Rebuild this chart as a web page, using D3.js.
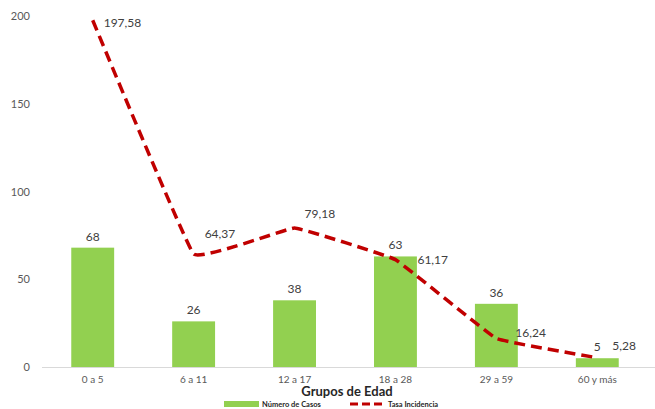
<!DOCTYPE html>
<html><head><meta charset="utf-8">
<script src="https://cdn.jsdelivr.net/npm/d3@7"></script>
<style>body{margin:0;background:#fff}svg{display:block;font-family:Lato,"Open Sans",sans-serif}</style>
</head><body><svg width="655" height="409"></svg>
<script>
const categories = ["0 a 5","6 a 11","12 a 17","18 a 28","29 a 59","60 y más"];
const casos = [68,26,38,63,36,5];
const tasa = [197.58,64.37,79.18,61.17,16.24,5.28];
const yTicks = [0,50,100,150,200];
// label offsets (styling) for line labels [dx, dy]
const tasaLabelOffsets = [[11,7],[11,-16],[10,-10],[22,4],[19,-1],[15,-8]];

const svg = d3.select("svg");
const x = d3.scaleBand().domain(categories).range([42,648]).paddingInner(0.575).paddingOuter(0.29);
const y = d3.scaleLinear().domain([0,200]).range([367,16]);
const fmt = v => String(v).replace(".", ",");

// y tick labels
svg.append("g").selectAll("text").data(yTicks).join("text")
  .attr("x",30).attr("y",d=>y(d)+4).attr("text-anchor","end")
  .attr("font-size",11).attr("fill","#595959").text(d=>d);

// bars
svg.append("g").selectAll("rect").data(casos).join("rect")
  .attr("x",(d,i)=>x(categories[i])).attr("width",x.bandwidth())
  .attr("y",d=>y(d)).attr("height",d=>y(0)-y(d)).attr("fill","#92D050");

// axis line
svg.append("line").attr("x1",42).attr("x2",655).attr("y1",y(0)+0.5).attr("y2",y(0)+0.5)
  .attr("stroke","#d9d9d9").attr("stroke-width",1);

// bar labels
svg.append("g").selectAll("text").data(casos).join("text")
  .attr("x",(d,i)=>x(categories[i])+x.bandwidth()/2).attr("y",d=>y(d)-7)
  .attr("text-anchor","middle").attr("font-size",12).attr("fill","#404040").text(d=>d);

// line
const cx = i => x(categories[i])+x.bandwidth()/2;
const line = d3.line().x((d,i)=>cx(i)).y(d=>y(d)).curve(d3.curveCardinal.tension(0.8));
svg.append("path").datum(tasa).attr("d",line).attr("fill","none")
  .attr("stroke","#C00000").attr("stroke-width",3.5).attr("stroke-dasharray","11,6");

// line labels
svg.append("g").selectAll("text").data(tasa).join("text")
  .attr("x",(d,i)=>cx(i)+tasaLabelOffsets[i][0]).attr("y",(d,i)=>y(d)+tasaLabelOffsets[i][1])
  .attr("font-size",12).attr("fill","#404040").text(d=>fmt(d));

// x labels
svg.append("g").selectAll("text").data(categories).join("text")
  .attr("x",d=>x(d)+x.bandwidth()/2).attr("y",383).attr("text-anchor","middle")
  .attr("font-size",10).attr("fill","#595959").text(d=>d);

// axis title
svg.append("text").attr("x",347).attr("y",396).attr("text-anchor","middle")
  .attr("font-size",13).attr("font-weight","bold").attr("fill","#262626").text("Grupos de Edad");

// legend
const lg = svg.append("g");
lg.append("rect").attr("x",224).attr("y",401).attr("width",35).attr("height",6).attr("fill","#92D050");
lg.append("text").attr("x",262).attr("y",407).attr("font-size",7.5).attr("font-weight","bold").attr("fill","#262626").text("Número de Casos");
lg.append("line").attr("x1",350).attr("x2",384).attr("y1",404).attr("y2",404)
  .attr("stroke","#C00000").attr("stroke-width",3).attr("stroke-dasharray","8,4");
lg.append("text").attr("x",388).attr("y",407).attr("font-size",7.5).attr("font-weight","bold").attr("fill","#262626").text("Tasa Incidencia");
</script></body></html>
